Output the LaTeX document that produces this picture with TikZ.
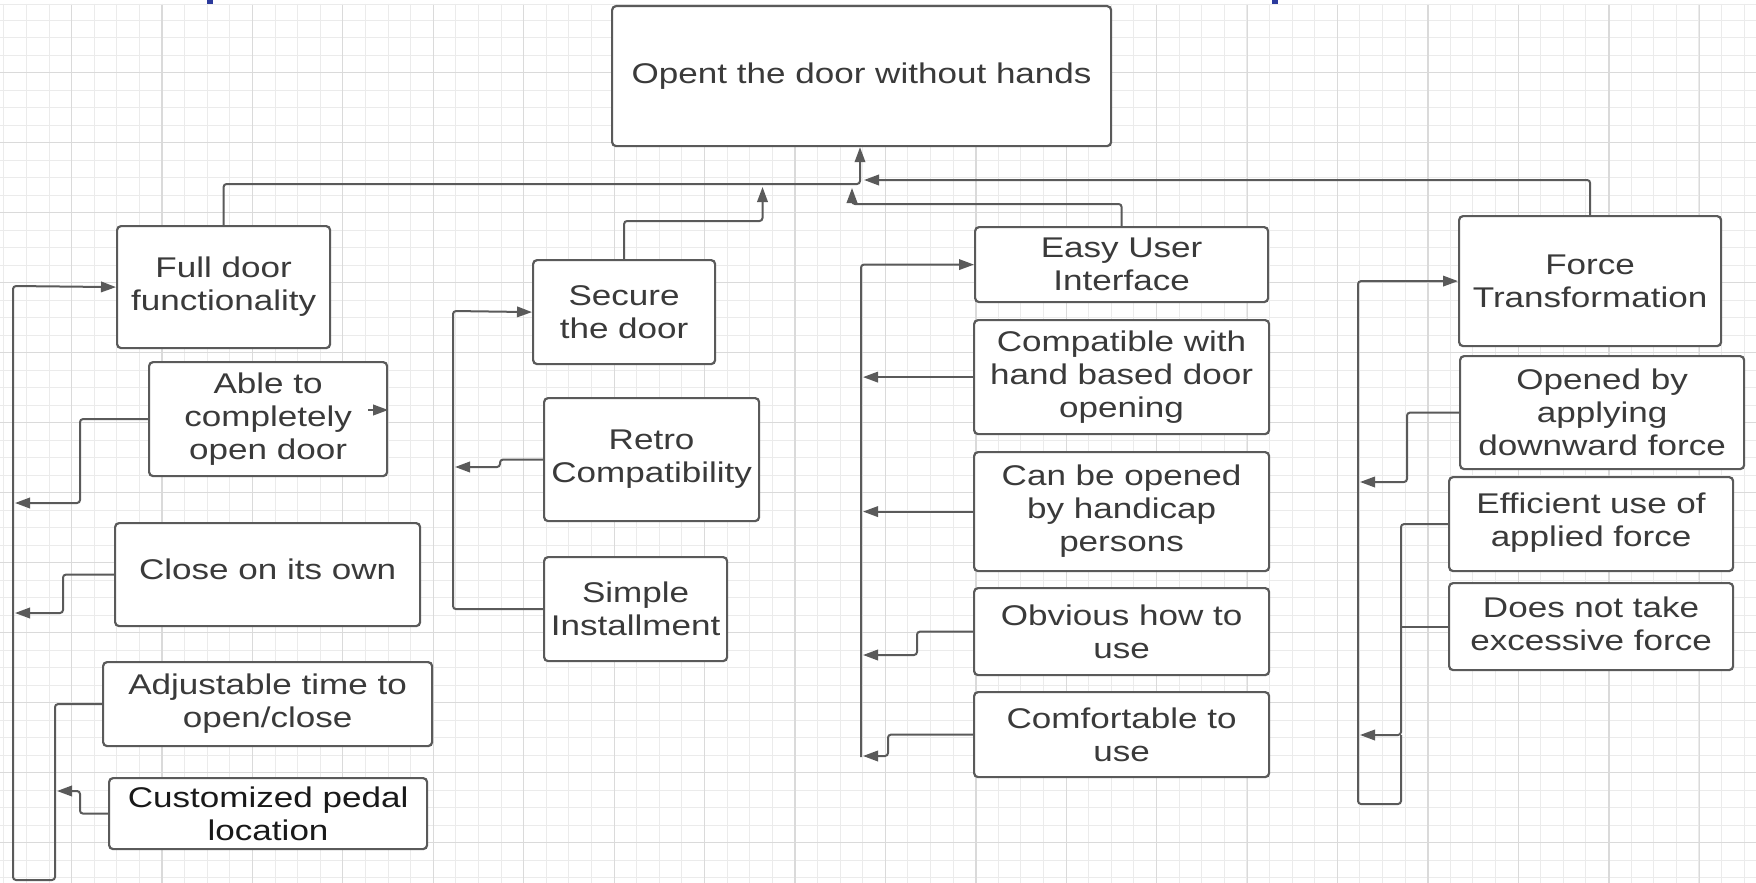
\documentclass[tikz,border=0pt]{standalone}
\usepackage{fontspec}
\setmainfont{Liberation Sans}[FakeStretch=1.23]
\usetikzlibrary{arrows.meta}
\definecolor{ln}{HTML}{5A5A5A}
\definecolor{tx}{HTML}{3A3A3A}
\definecolor{gmin}{HTML}{EBEBEB}
\definecolor{gmaj}{HTML}{DADADA}
\definecolor{bluemark}{HTML}{2B3A9C}
\tikzset{
 box/.style={draw=ln, line width=2.2pt, rounded corners=4pt, fill=white, text=tx, align=center,
   inner sep=0pt, anchor=north west, font=\fontsize{28.5}{33}\selectfont},
 conn/.style={draw=ln, line width=2pt, rounded corners=3pt},
 arr/.style={conn, -{Triangle[length=15pt,width=10.5pt]}},
 gridminor/.style={draw=gmin, line width=0.9pt},
 gridmajor/.style={draw=gmaj, line width=1.2pt},
}
\begin{document}
\begin{tikzpicture}[x={(1pt,0pt)}, y={(0pt,-1pt)}]
\useasboundingbox (0,0) rectangle (1756,883);
\fill[white] (0,0) rectangle (1756,883);
% grid
\foreach \i in {0,...,77} \draw[gridminor] ({3.8+22.6*\i},4) -- ({3.8+22.6*\i},883);
\foreach \j in {1,...,50} \draw[gridminor] (0,{2.7+17.5*\j}) -- (1756,{2.7+17.5*\j});
\foreach \k in {0,...,18} \draw[gridmajor] ({71.6+90.43*\k},4) -- ({71.6+90.43*\k},883);
\foreach \k in {1,...,12} \draw[gridmajor] (0,{2.7+70*\k}) -- (1756,{2.7+70*\k});
\draw[gridminor] (0,4) -- (1756,4);
% blue marks at top edge
\fill[bluemark] (207,0) rectangle (213,4);
\fill[bluemark] (1272,0) rectangle (1278,4);

% nodes
\node[box, minimum width=499pt, minimum height=140pt] (top) at (611,5) {Opent the door without hands};

\node[box, minimum width=213pt, minimum height=122pt] (full) at (116,225) {Full door\\functionality};
\node[box, minimum width=238pt, minimum height=114pt] (able) at (148,361) {Able to\\completely\\open door};
\node[box, minimum width=305pt, minimum height=103pt] (close) at (114,522) {Close on its own\rule[-10pt]{0pt}{0pt}};
\node[box, minimum width=329pt, minimum height=84pt] (adj) at (102,661) {Adjustable time to\\open/close};
\node[box, minimum width=318pt, minimum height=71pt, text=black!90] (cust) at (108,777) {Customized pedal\\location};

\node[box, minimum width=182pt, minimum height=104pt] (secure) at (532,259) {Secure\\the door};
\node[box, minimum width=215pt, minimum height=123pt] (retro) at (543,397) {Retro\\Compatibility};
\node[box, minimum width=183pt, minimum height=104pt] (simple) at (543,556) {Simple\\Installment};

\node[box, minimum width=293pt, minimum height=75pt] (easy) at (974,226) {Easy User\\Interface};
\node[box, minimum width=295pt, minimum height=114pt] (compat) at (973,319) {Compatible with\\hand based door\\opening};
\node[box, minimum width=295pt, minimum height=119pt] (canbe) at (973,451) {Can be opened\\by handicap\\persons};
\node[box, minimum width=295pt, minimum height=87pt] (obv) at (973,587) {Obvious how to\\use};
\node[box, minimum width=295pt, minimum height=85pt] (comf) at (973,691) {Comfortable to\\use};

\node[box, minimum width=262pt, minimum height=130pt] (force) at (1458,215) {Force\\Transformation};
\node[box, minimum width=284pt, minimum height=113pt] (opened) at (1459,355) {Opened by\\applying\\downward force};
\node[box, minimum width=284pt, minimum height=94pt] (effic) at (1448,476) {Efficient use of\\applied force\rule[-8pt]{0pt}{0pt}};
\node[box, minimum width=284pt, minimum height=87pt] (doesnot) at (1448,582) {Does not take\\excessive force\rule[-6pt]{0pt}{0pt}};

% connector helper coordinates
\coordinate (J) at (860,184);
\coordinate (secA) at (762.5,187);
\coordinate (easyA) at (852,188);
\coordinate (forceA) at (864,180);
\coordinate (ablestub) at (368,410);
\coordinate (ableT) at (15,503);
\coordinate (closeT) at (15,613);
\coordinate (custT) at (57,791);
\coordinate (retroT) at (455,467);
\coordinate (ETx) at (863,0);
\coordinate (obvT) at (863,655);
\coordinate (comfT) at (863,756);
\coordinate (openT) at (1360,482);
\coordinate (effT) at (1360,735);
\coordinate (FI) at (1401,0);

% top level
\draw[arr] (full.north) |- (J) -- (J |- top.south);
\draw[arr] (secure.north) |- (762.5,221) -- (secA);
\draw[arr] (easy.north) |- (852,204) -- (easyA);
\draw[arr] (force.north) |- (forceA);

% left group
\draw[arr] (ablestub) -- (ablestub -| able.east);
\draw[arr] (able.west) -| (80,503) -- (ableT);
\draw[arr] (close.west) -| (63,613) -- (closeT);
\draw[arr] (adj.west) -| (55,880) -| (13,286) -- (full.west);
\draw[arr] (cust.west) -| (80,791) -- (custT);

% secure group
\draw[arr] (retro.west) -| (500,467) -- (retroT);
\draw[arr] (simple.west) -| (453,311) -- (secure.west);

% easy group
\draw[arr] (compat.west) -- (compat.west -| ETx);
\draw[arr] (canbe.west) -- (canbe.west -| ETx);
\draw[arr] (obv.west) -| (917,655) -- (obvT);
\draw[arr] (comf.west) -| (888,756) -- (comfT);
\draw[arr] (861,757) |- (easy.west);

% force group
\draw[arr] (opened.west) -| (1407,482) -- (openT);
\draw[arr] (effic.west) -| (1401,735) -- (effT);
\draw[conn] (doesnot.west) -- (doesnot.west -| FI);
\draw[arr] (1401,735) |- (1358,804) |- (force.west);
\end{tikzpicture}
\end{document}
